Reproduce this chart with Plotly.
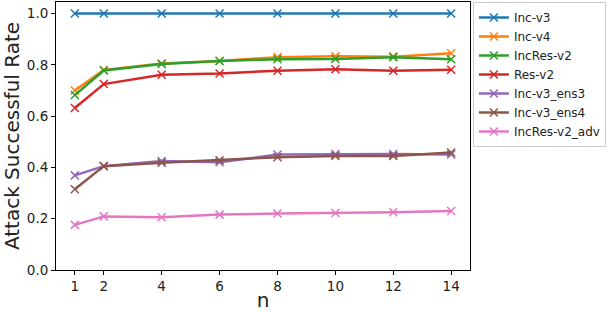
import plotly.graph_objects as go

n_values = [1, 2, 4, 6, 8, 10, 12, 14]
tick_vals = [1, 2, 4, 6, 8, 10, 12, 14]
y_ticks = [0.0, 0.2, 0.4, 0.6, 0.8, 1.0]

inc_v3 = [1.0, 1.0, 1.0, 1.0, 1.0, 1.0, 1.0, 1.0]
inc_v4 = [0.700, 0.780, 0.805, 0.815, 0.830, 0.833, 0.832, 0.845]
incres_v2 = [0.682, 0.778, 0.803, 0.815, 0.822, 0.823, 0.830, 0.822]
res_v2 = [0.632, 0.725, 0.761, 0.766, 0.777, 0.783, 0.777, 0.781]
inc_v3_ens3 = [0.369, 0.405, 0.425, 0.420, 0.450, 0.452, 0.452, 0.450]
inc_v3_ens4 = [0.315, 0.405, 0.418, 0.428, 0.440, 0.445, 0.445, 0.458]
incres_v2_adv = [0.176, 0.209, 0.206, 0.216, 0.220, 0.222, 0.225, 0.230]

series = [
    ("Inc-v3", inc_v3, "#1f77b4"),
    ("Inc-v4", inc_v4, "#ff7f0e"),
    ("IncRes-v2", incres_v2, "#2ca02c"),
    ("Res-v2", res_v2, "#d62728"),
    ("Inc-v3_ens3", inc_v3_ens3, "#9467bd"),
    ("Inc-v3_ens4", inc_v3_ens4, "#8c564b"),
    ("IncRes-v2_adv", incres_v2_adv, "#e377c2"),
]

fig = go.Figure()
for name, vals, color in series:
    fig.add_trace(go.Scatter(
        x=n_values, y=vals, name=name, mode="lines+markers",
        line=dict(color=color, width=2.5),
        marker=dict(symbol="x-thin", size=8, line=dict(color=color, width=1.5), color=color),
    ))

fig.update_layout(
    width=608, height=312,
    margin=dict(l=56, r=138, t=2, b=42),
    paper_bgcolor="white", plot_bgcolor="white",
    font=dict(family="DejaVu Sans", color="#222"),
    showlegend=True,
    legend=dict(
        x=1.007, y=1.0, xanchor="left", yanchor="top",
        bordercolor="#cccccc", borderwidth=1,
        font=dict(size=12, family="DejaVu Sans", color="#222"),
        tracegroupgap=0,
    ),
    xaxis=dict(
        range=[0.35, 14.65], tickvals=tick_vals, ticktext=[str(v) for v in tick_vals],
        showgrid=False, zeroline=False, showline=True, linecolor="black", linewidth=1,
        mirror=True, ticks="outside", ticklen=4, tickcolor="black",
        tickfont=dict(size=13.5),
        title=dict(text="n", font=dict(size=20), standoff=2),
    ),
    yaxis=dict(
        range=[0.0, 1.045], tickvals=y_ticks, ticktext=["%.1f" % v for v in y_ticks],
        showgrid=False, zeroline=False, showline=True, linecolor="black", linewidth=1,
        mirror=True, ticks="outside", ticklen=4, tickcolor="black",
        tickfont=dict(size=13.5),
        title=dict(text="Attack Successful Rate", font=dict(size=20), standoff=4),
    ),
)

fig.write_html("out.html", config={"displayModeBar": False})
with open("out.html", "r", encoding="utf-8") as f:
    html = f.read()
html = html.replace("<body>", '<body style="margin:0;padding:0;">', 1)
with open("out.html", "w", encoding="utf-8") as f:
    f.write(html)
